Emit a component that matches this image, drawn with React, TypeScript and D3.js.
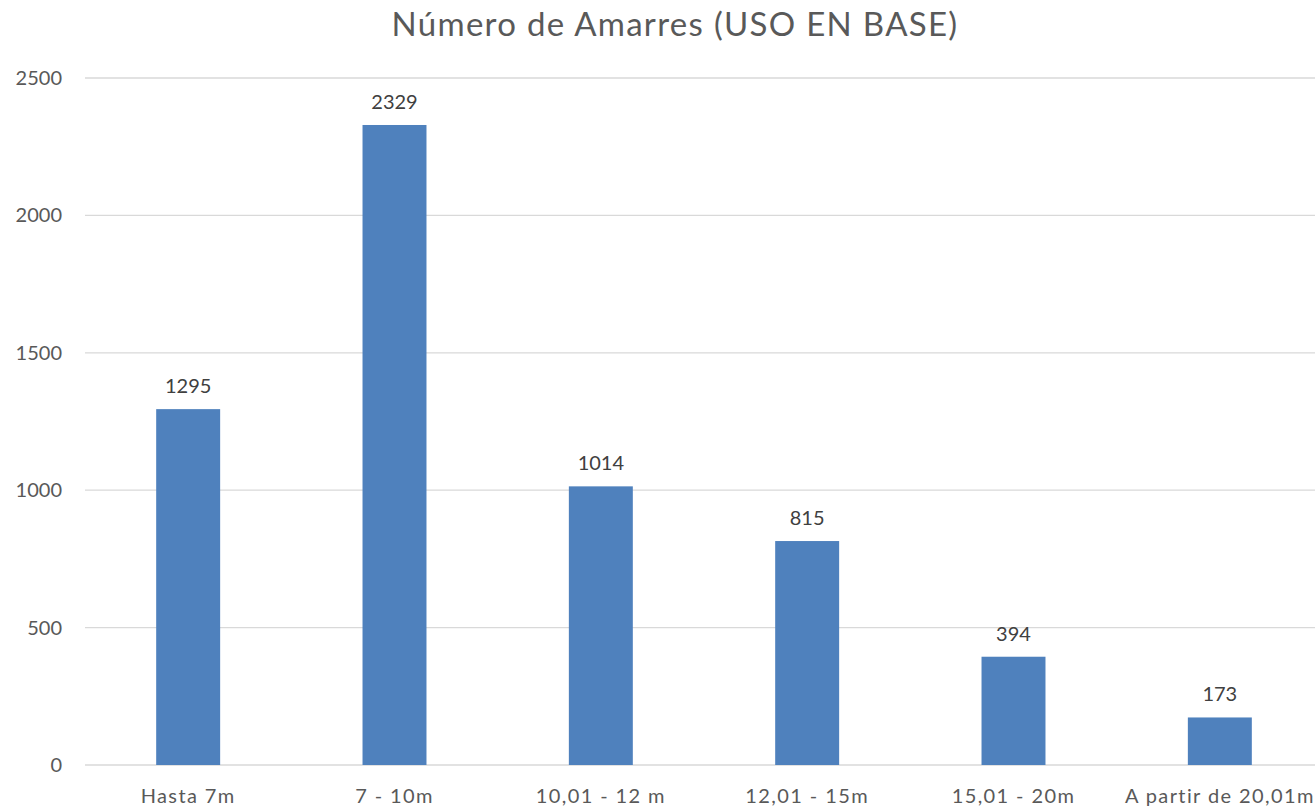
import React, { useRef, useEffect } from "react";
import * as d3 from "d3";

const categories = ["Hasta 7m", "7 - 10m", "10,01 - 12 m", "12,01 - 15m", "15,01 - 20m", "A partir de 20,01m"];
const values = [1295, 2329, 1014, 815, 394, 173];
const yTicks = [0, 500, 1000, 1500, 2000, 2500];
const title = "Número de Amarres (USO EN BASE)";

const width = 1315;
const height = 806;
const font = "Lato, 'Open Sans', sans-serif";

const App = () => {
    const plot = useRef<SVGSVGElement>(null);

    useEffect(() => {
        const svg = d3.select(plot.current);
        svg.selectAll("*").remove();

        const x = d3.scaleBand()
            .domain(categories)
            .range([85, 1323])
            .paddingInner(0.69)
            .paddingOuter(0.345);

        const y = d3.scaleLinear()
            .domain([0, 2500])
            .range([765, 78]);

        // title
        svg.append("text")
            .attr("x", 675)
            .attr("y", 36)
            .attr("text-anchor", "middle")
            .attr("font-family", font)
            .attr("font-size", 33)
            .attr("letter-spacing", 1.3)
            .attr("fill", "#595959")
            .text(title);

        // grid lines + y labels
        const yAxis = svg.append("g").attr("class", "y axis");
        yAxis.selectAll("line")
            .data(yTicks)
            .join("line")
            .attr("x1", 85)
            .attr("x2", width)
            .attr("y1", d => y(d))
            .attr("y2", d => y(d))
            .attr("stroke", "#d9d9d9")
            .attr("stroke-width", 1.3);
        yAxis.selectAll("text")
            .data(yTicks)
            .join("text")
            .attr("x", 62)
            .attr("y", d => y(d))
            .attr("dy", "0.35em")
            .attr("text-anchor", "end")
            .attr("font-family", font)
            .attr("font-size", 20)
            .attr("fill", "#595959")
            .text(d => d);

        // bars
        svg.append("g")
            .selectAll("rect")
            .data(values)
            .join("rect")
            .attr("x", (d, i) => x(categories[i])!)
            .attr("y", d => y(d))
            .attr("width", x.bandwidth())
            .attr("height", d => y(0) - y(d))
            .attr("fill", "#4f81bd");

        // data labels
        svg.append("g")
            .selectAll("text")
            .data(values)
            .join("text")
            .attr("x", (d, i) => x(categories[i])! + x.bandwidth() / 2)
            .attr("y", d => y(d) - 16)
            .attr("text-anchor", "middle")
            .attr("font-family", font)
            .attr("font-size", 20)
            .attr("fill", "#404040")
            .text(d => d);

        // x labels
        svg.append("g")
            .selectAll("text")
            .data(categories)
            .join("text")
            .attr("x", d => x(d)! + x.bandwidth() / 2)
            .attr("y", 803)
            .attr("text-anchor", "middle")
            .attr("font-family", font)
            .attr("font-size", 20)
            .attr("letter-spacing", 1.4)
            .attr("fill", "#595959")
            .text(d => d);
    });

    return (
        <svg ref={plot} width={width} height={height}
            style={{ position: "absolute", left: 0, top: 0, background: "#fff" }} />
    );
};

export default App;
